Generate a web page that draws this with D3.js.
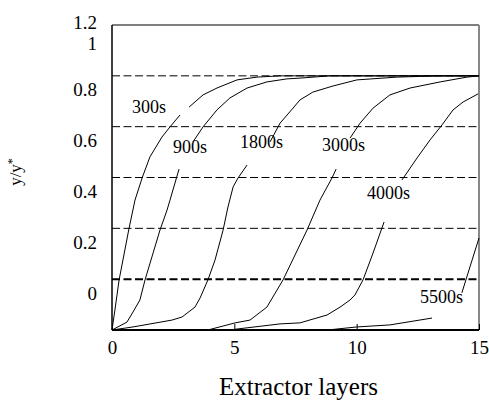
<!DOCTYPE html>
<html>
<head>
<meta charset="utf-8">
<script src="https://cdn.jsdelivr.net/npm/d3@7"></script>
<style>
  body { margin: 0; background: #fff; }
  svg text { font-family: "Liberation Serif", "Times New Roman", "DejaVu Serif", serif !important; fill: #000; }
</style>
</head>
<body>
<div id="chart"></div>
<script>
// extractor layer vs y/y*, one profile per time; null marks a break in the drawn line
var s300 = [[0, 0], [0.12, 0.079], [0.29, 0.197], [0.69, 0.397], [0.94, 0.511], [1.23, 0.598], [1.55, 0.681], [2.04, 0.759], [2.37, 0.799], [2.78, 0.846],
  null, [3.15, 0.877], [3.72, 0.925], [4.29, 0.952], [5.11, 0.984], [5.93, 0.995], [6.87, 1.0], [15, 1.0]];
var s900 = [[0, 0], [0.61, 0.031], [0.86, 0.071], [1.14, 0.118], [1.35, 0.197], [1.68, 0.303], [1.96, 0.393], [2.25, 0.472], [2.37, 0.511], [2.74, 0.633],
  null, [3.31, 0.740], [3.72, 0.799], [4.29, 0.866], [4.82, 0.913], [5.52, 0.952], [6.33, 0.976], [7.15, 0.988], [7.68, 0.991], [8.91, 1.0], [15, 1.0]];
var s1800 = [[0, 0], [0.86, 0.012], [2.45, 0.039], [2.86, 0.051], [3.39, 0.090], [3.60, 0.126], [3.92, 0.197], [4.21, 0.275], [4.54, 0.393], [4.74, 0.484], [4.95, 0.563], [5.15, 0.598], [5.52, 0.649],
  null, [6.46, 0.740], [6.87, 0.814], [7.40, 0.873], [7.68, 0.905], [8.21, 0.936], [9.03, 0.960], [10.01, 0.984], [11.65, 0.995], [13.41, 1.0], [15, 1.0]];
var s3000 = [[0, 0], [4.0, 0.002], [5.03, 0.028], [5.64, 0.039], [6.33, 0.090], [6.99, 0.197], [7.97, 0.393], [8.50, 0.511], [8.99, 0.598], [9.16, 0.633],
  null, [9.73, 0.755], [10.14, 0.814], [10.67, 0.873], [11.36, 0.925], [12.18, 0.952], [13.41, 0.976], [14.51, 0.995], [15, 1.0]];
var s4000 = [[0, 0], [4.95, 0.002], [6.87, 0.024], [7.68, 0.028], [8.79, 0.059], [9.32, 0.090], [9.73, 0.118], [9.93, 0.138], [10.26, 0.197], [10.67, 0.303], [11.12, 0.425],
  null, [11.85, 0.590], [12.47, 0.677], [13.0, 0.748], [13.49, 0.807], [13.94, 0.866], [14.35, 0.897], [14.96, 0.929]];
var s5500 = [[0, 0], [8.91, 0.001], [10.01, 0.012], [11.36, 0.020], [13.08, 0.047],
  null, [14.30, 0.146], [14.63, 0.248], [15, 0.362]];

var series = [s300, s900, s1800, s3000, s4000, s5500];
var seriesNames = ["300s", "900s", "1800s", "3000s", "4000s", "5500s"];
// where each name is written, in data units (layer, y/y*)
var nameAt = [[0.82, 0.854], [2.49, 0.696], [5.23, 0.716], [8.58, 0.704], [10.42, 0.515], [12.59, 0.106]];

var xTicks = [0, 5, 10, 15];
var yTicks = [0, 0.2, 0.4, 0.6, 0.8, 1, 1.2];
var gridLevels = [0.2, 0.4, 0.6, 0.8, 1.0];

var width = 489, height = 401;
var margin = {top: 25, right: 10, bottom: 71, left: 112};
var serif = '"Liberation Serif", "Times New Roman", "DejaVu Serif", serif';

var x = d3.scaleLinear().domain([0, 15]).range([margin.left, width - margin.right]);
var y = d3.scaleLinear().domain([0, 1.2]).range([height - margin.bottom, margin.top]);

var svg = d3.select("#chart").append("svg").attr("width", width).attr("height", height)
  .attr("font-family", serif);

// dashed horizontal levels
svg.selectAll(".grid").data(gridLevels).enter().append("line")
  .attr("x1", x(0)).attr("x2", x(15) - 1)
  .attr("y1", function(d) { return y(d); }).attr("y2", function(d) { return y(d); })
  .attr("stroke", "#000")
  .attr("stroke-width", function(d) { return d === 0.2 ? 2 : 1; })
  .attr("stroke-dasharray", "8,3.5");

// frame
svg.append("line").attr("x1", x(0)).attr("x2", x(15)).attr("y1", y(1.2)).attr("y2", y(1.2)).attr("stroke", "#000").attr("stroke-width", 1);
svg.append("line").attr("x1", x(15)).attr("x2", x(15)).attr("y1", y(1.2)).attr("y2", y(0)).attr("stroke", "#888").attr("stroke-width", 2);

var line = d3.line()
  .defined(function(d) { return d !== null; })
  .x(function(d) { return x(d[0]); })
  .y(function(d) { return y(d[1]); });

svg.selectAll(".curve").data(series).enter().append("path")
  .attr("d", line)
  .attr("fill", "none")
  .attr("stroke", "#000")
  .attr("stroke-width", 1);

svg.selectAll(".name").data(seriesNames).enter().append("text")
  .attr("x", function(d, i) { return x(nameAt[i][0]); })
  .attr("y", function(d, i) { return y(nameAt[i][1]); })
  .style("font-family", serif)
  .style("font-size", "18px")
  .text(function(d) { return d; });

// x axis
var xAxis = svg.append("g").attr("transform", "translate(0," + y(0) + ")")
  .call(d3.axisBottom(x).tickValues(xTicks).tickSize(-6).tickPadding(11).tickFormat(d3.format("d")));
xAxis.attr("font-family", serif);
xAxis.select(".domain").remove();
xAxis.selectAll("line").attr("stroke", "#000");
xAxis.selectAll("text").style("font-size", "19px").style("font-family", serif);
svg.append("line").attr("x1", x(0)).attr("x2", x(15)).attr("y1", y(0)).attr("y2", y(0)).attr("stroke", "#000").attr("stroke-width", 2);

// y axis: labels sit above their levels, as in the original
var labelShift = [-31, -31, -31, -31, -31, -26, 3];
var yAxis = svg.append("g").attr("transform", "translate(" + x(0) + ",0)")
  .call(d3.axisLeft(y).tickValues(yTicks).tickSize(0).tickPadding(15).tickFormat(function(d) { return String(d); }));
yAxis.attr("font-family", serif);
yAxis.select(".domain").remove();
yAxis.selectAll("text")
  .attr("dy", null)
  .attr("y", function(d, i) { return labelShift[i]; })
  .style("font-size", "19px").style("font-family", serif);
svg.append("line").attr("x1", x(0)).attr("x2", x(0)).attr("y1", y(1.2)).attr("y2", y(0)).attr("stroke", "#000").attr("stroke-width", 1.5);

svg.append("text")
  .attr("x", (x(0) + x(15)) / 2 + 3).attr("y", 395)
  .attr("text-anchor", "middle")
  .style("font-family", serif)
  .style("font-size", "25px")
  .text("Extractor layers");

var yl = svg.append("text")
  .attr("transform", "translate(21,172) rotate(-90)")
  .attr("text-anchor", "middle")
  .style("font-family", serif)
  .style("font-size", "17px");
yl.append("tspan").text("y/y");
yl.append("tspan").attr("dy", "-0.45em").style("font-size", "12px").text("*");
</script>
</body>
</html>
